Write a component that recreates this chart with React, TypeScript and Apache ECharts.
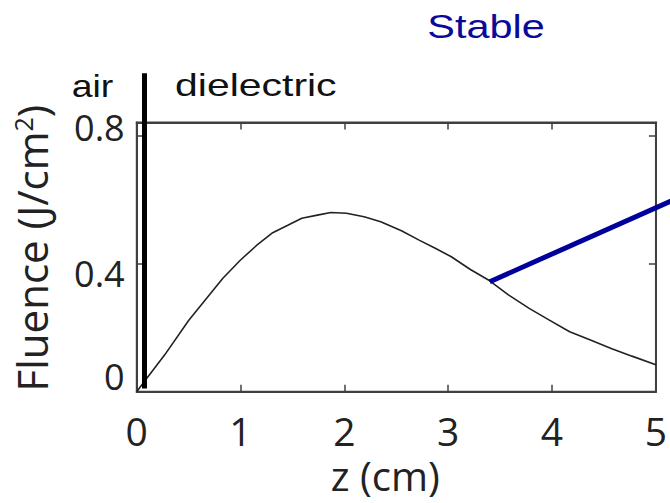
import React, { useEffect, useRef } from "react";
import * as echarts from "echarts";

// Fluence profile along z (cm) -> J/cm^2
const zValues = [0, 0.07, 0.27, 0.5, 0.66, 0.83, 1.0, 1.16, 1.31, 1.46, 1.59, 1.74, 1.87, 2.02, 2.19, 2.35, 2.55, 2.72, 2.88, 3.03, 3.21, 3.4, 3.58, 3.78, 3.97, 4.17, 4.37, 4.57, 4.77, 5.0];
const fluence = [0, 0.03, 0.115, 0.222, 0.286, 0.354, 0.411, 0.458, 0.496, 0.52, 0.541, 0.551, 0.559, 0.557, 0.546, 0.53, 0.502, 0.473, 0.447, 0.421, 0.382, 0.346, 0.302, 0.26, 0.224, 0.187, 0.161, 0.135, 0.111, 0.084];

// air / dielectric interface marker
const interfaceZ = [0.075, 0.075];
const interfaceF = [0.01, 0.994];

// "Stable" pointer line
const stableZ = [3.4, 5.2];
const stableF = [0.343, 0.603];

const xTicks = [0, 1, 2, 3, 4, 5];

const pairs = (xs: number[], ys: number[]) => xs.map((x, i) => [x, ys[i]]);

const FRAME = "#404040";
const tickCfg = () => ({ show: true, inside: true, length: 7, lineStyle: { color: FRAME, width: 1.5 } });
const lineCfg = () => ({ show: true, onZero: false, lineStyle: { color: FRAME, width: 2 } });

export default function App() {
  const ref = useRef<HTMLDivElement>(null);
  useEffect(() => {
    if (!ref.current) return;
    const chart = echarts.init(ref.current, null, { renderer: "svg" });
    chart.setOption({
      animation: false,
      backgroundColor: "#ffffff",
      grid: {
        show: true,
        left: 136.7,
        right: 13.3,
        top: 122.5,
        bottom: 111.3,
        containLabel: false,
        borderColor: FRAME,
        borderWidth: 1.8,
        backgroundColor: "transparent",
      },
      xAxis: [
        {
          type: "value",
          min: 0,
          max: 5,
          interval: 1,
          position: "bottom",
          axisLine: lineCfg(),
          axisTick: tickCfg(),
          splitLine: { show: false },
          axisLabel: {
            color: "#222",
            fontFamily: "Open Sans",
            fontSize: 39,
            lineHeight: 39,
            margin: 19,
            formatter: (v: number) => (xTicks.includes(v) ? String(v) : ""),
          },
          name: "z (cm)",
          nameLocation: "middle",
          nameGap: 64,
          nameTextStyle: { color: "#222", fontFamily: "Open Sans", fontSize: 40, lineHeight: 40, padding: [0, 22, 0, 0] },
        },
        {
          type: "value",
          min: 0,
          max: 5,
          interval: 1,
          position: "top",
          axisLine: lineCfg(),
          axisTick: tickCfg(),
          axisLabel: { show: false },
          splitLine: { show: false },
        },
      ],
      yAxis: [
        {
          type: "value",
          min: 0,
          max: 0.84,
          interval: 0.4,
          position: "left",
          axisLine: lineCfg(),
          axisTick: tickCfg(),
          splitLine: { show: false },
          axisLabel: {
            color: "#222",
            fontFamily: "Open Sans",
            fontSize: 36,
            margin: 12,
            showMaxLabel: false,
            formatter: (v: number) => {
              if (Math.abs(v) < 1e-9) return "{a|0}";
              if (Math.abs(v - 0.4) < 1e-9) return "{b|0.4}";
              if (Math.abs(v - 0.8) < 1e-9) return "{c|0.8}";
              return "";
            },
            rich: {
              a: { fontFamily: "Open Sans", fontSize: 36, color: "#222", padding: [0, 0, 30, 0] },
              b: { fontFamily: "Open Sans", fontSize: 36, color: "#222", padding: [20, 0, 0, 0] },
              c: { fontFamily: "Open Sans", fontSize: 36, color: "#222", padding: [0, 0, 16, 0] },
            },
          },
          name: "Fluence (J/cm{sup|2})",
          nameLocation: "middle",
          nameRotate: 90,
          nameGap: 84,
          nameTextStyle: {
            color: "#222",
            fontFamily: "Open Sans",
            fontSize: 42,
            padding: [0, 0, 0, 18],
            rich: {
              sup: { fontFamily: "Open Sans", fontSize: 25, color: "#222", verticalAlign: "top" },
            },
          },
        },
        {
          type: "value",
          show: true,
          min: 0,
          max: 0.84,
          interval: 0.4,
          position: "right",
          offset: 0,
          axisLine: lineCfg(),
          axisTick: tickCfg(),
          axisLabel: { show: false },
          splitLine: { show: false },
        },
      ],
      series: [
        {
          type: "line",
          data: pairs(zValues, fluence),
          showSymbol: false,
          lineStyle: { color: "#222", width: 1.6 },
          z: 3,
        },
        {
          type: "line",
          data: pairs(interfaceZ, interfaceF),
          showSymbol: false,
          clip: false,
          lineStyle: { color: "#000", width: 5, cap: "butt" },
          z: 4,
        },
        {
          type: "line",
          xAxisIndex: 1,
          yAxisIndex: 1,
          data: [],
          showSymbol: false,
        },
      ],
      graphic: [
        {
          id: "stableText",
          type: "text",
          x: 427.3,
          y: 26.4,
          scaleX: 1.22,
          style: { text: "Stable", fontFamily: "Liberation Sans", fontSize: 34, fill: "#0a0a9a", align: "left", verticalAlign: "middle" },
        },
        {
          id: "airText",
          type: "text",
          x: 71.7,
          y: 85.5,
          scaleX: 1.17,
          style: { text: "air", fontFamily: "Liberation Sans", fontSize: 32, fill: "#111", align: "left", verticalAlign: "middle" },
        },
        {
          id: "dielText",
          type: "text",
          x: 175,
          y: 85.5,
          scaleX: 1.28,
          style: { text: "dielectric", fontFamily: "Liberation Sans", fontSize: 32, fill: "#111", align: "left", verticalAlign: "middle" },
        },
      ],
    });
    const p1 = chart.convertToPixel({ gridIndex: 0 }, [stableZ[0], stableF[0]]) as number[];
    const p2 = chart.convertToPixel({ gridIndex: 0 }, [stableZ[1], stableF[1]]) as number[];
    chart.setOption({
      graphic: [
        {
          id: "stableLine",
          type: "line",
          z: 10,
          shape: { x1: p1[0], y1: p1[1], x2: p2[0], y2: p2[1] },
          style: { stroke: "#00009c", lineWidth: 5, lineCap: "butt" },
        },
      ],
    });
    return () => chart.dispose();
  }, []);
  return (
    <div style={{ position: "absolute", left: 0, top: 0, width: 670, height: 503, background: "#fff" }}>
      <div ref={ref} style={{ width: 670, height: 503 }} />
    </div>
  );
}
